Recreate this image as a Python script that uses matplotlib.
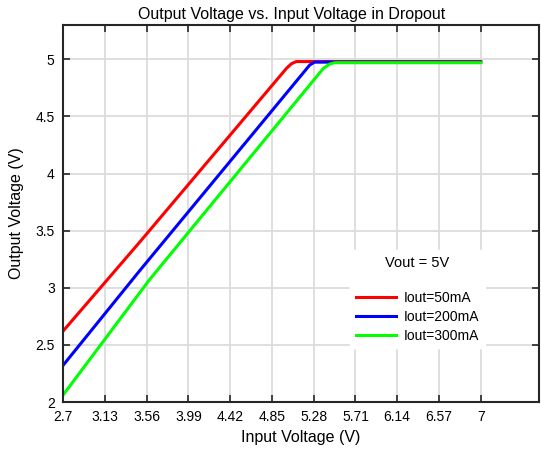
import matplotlib
matplotlib.use("Agg")
import matplotlib.pyplot as plt
import numpy as np

plt.rcParams['font.family'] = ['Liberation Sans', 'DejaVu Sans']

vin_50 = [2.7, 3.49, 5.00, 5.05, 5.10, 7.0]
vout_50 = [2.62, 3.40, 4.92, 4.96, 4.98, 4.98]
vin_200 = [2.7, 3.49, 5.24, 5.29, 7.0]
vout_200 = [2.32, 3.15, 4.95, 4.975, 4.975]
vin_300 = [2.7, 3.59, 5.38, 5.45, 5.50, 7.0]
vout_300 = [2.06, 3.07, 4.92, 4.96, 4.97, 4.97]

labels = ["Iout=50mA", "Iout=200mA", "Iout=300mA"]
colors = ["#ff0000", "#0000ff", "#00ff00"]
xticks = [2.7, 3.13, 3.56, 3.99, 4.42, 4.85, 5.28, 5.71, 6.14, 6.57, 7.0]
xticklabels = ["2.7", "3.13", "3.56", "3.99", "4.42", "4.85", "5.28", "5.71", "6.14", "6.57", "7"]
yticks = [2, 2.5, 3, 3.5, 4, 4.5, 5]
yticklabels = ["2", "2.5", "3", "3.5", "4", "4.5", "5"]

fig = plt.figure(figsize=(5.41, 4.54), dpi=100)
ax = fig.add_axes([63/541, 1-402/454, (539-63)/541, (402-25)/454])

for x, y, lab, c in zip([vin_50, vin_200, vin_300], [vout_50, vout_200, vout_300], labels, colors):
    ax.plot(x, y, color=c, lw=2.2, label=lab, solid_joinstyle='round')

ax.set_xlim(2.7, 7.6)
ax.set_ylim(2, 5.3)
ax.set_xticks(xticks)
ax.set_xticklabels(xticklabels)
ax.set_yticks(yticks)
ax.set_yticklabels(yticklabels)
ax.grid(True, color='#dcdcdc', lw=1.3)
ax.set_axisbelow(True)
ax.tick_params(direction='in', top=True, right=True, length=5, width=1.2, labelsize=10, color='#262626', pad=6)
for s in ax.spines.values():
    s.set_linewidth(1.5)
    s.set_color('#262626')

ax.set_xlabel("Input Voltage (V)", fontsize=11.5, labelpad=4)
ax.set_ylabel("Output Voltage (V)", fontsize=11.5, labelpad=8)
fig.text(292/541, 1-14/454, "Output Voltage vs. Input Voltage in Dropout", ha='center', va='center', fontsize=11.5)

leg = ax.legend(loc='lower left', bbox_to_anchor=((343-63)/476, (402-355)/377), title="Vout = 5V",
                fontsize=10, title_fontsize=10.5, frameon=True, fancybox=False, edgecolor='white',
                framealpha=1, handlelength=2.9, handletextpad=0.6, borderpad=0.4, labelspacing=0.35)
leg._legend_box.sep = 15

fig.savefig("out.png", dpi=100)
